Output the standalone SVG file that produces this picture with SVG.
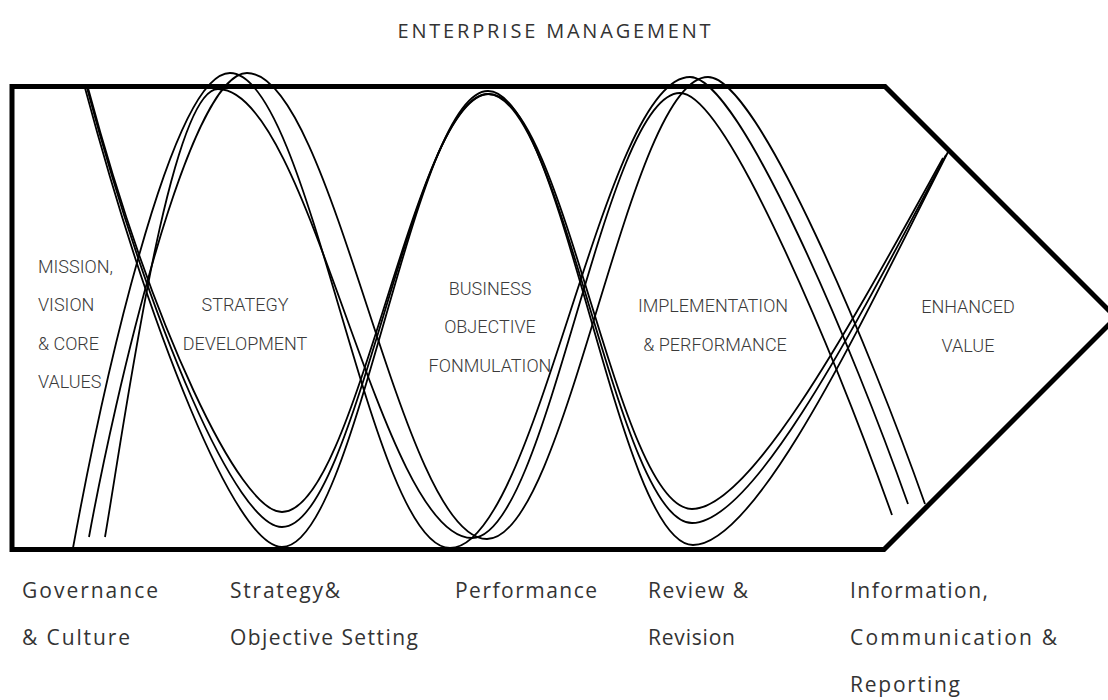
<svg xmlns="http://www.w3.org/2000/svg" width="1108" height="700" viewBox="0 0 1108 700">
  <style>
    .frame { fill: none; stroke: #000; stroke-width: 5; stroke-linejoin: miter; }
    .strand { fill: none; stroke: #000; stroke-width: 1.8; stroke-linecap: butt; }
    .stage { font-family: Roboto, "Liberation Sans", sans-serif; font-weight: 300; font-size: 18px; fill: #3a3a3a; }
    .pillar { font-family: "Open Sans", "Liberation Sans", sans-serif; font-size: 21px; fill: #333; }
    .title { font-family: "Open Sans", "Liberation Sans", sans-serif; font-size: 20px; fill: #333; }
  </style>
  <rect width="1108" height="700" fill="#fff"/>

  <text class="title" x="554" y="38" text-anchor="middle" textLength="313" lengthAdjust="spacing">ENTERPRISE MANAGEMENT</text>

  <!-- arrow-shaped frame -->
  <g id="frame">
    <polygon class="frame" points="12,86.5 885,86.5 1116,317.5 884,549.5 12,549.5"/>
  </g>

  <!-- interwoven strands -->
  <g id="connectors">
    <g id="wave-a">
      <path class="strand" d="M73,548 C100,400 170,73 230,73 C310,73 370,548 450,548 C537,548 603,77 690,77 C740,77 855,354 908,504"/>
      <path class="strand" d="M89,537 C114,400 188,73 247,73 C334,73 400,539 487,539 C567,539 628,77 708,77 C758,77 872,354 925,504"/>
      <path class="strand" d="M105,537 C125,420 170,89 218,89 C310,89 380,538 472,538 C548,538 604,93 680,93 C728,93 840,370 892,515"/>
    </g>
    <g id="wave-b">
      <path class="strand" d="M85,88 C150,330 235,547 282,547 C357,547 413,91 488,91 C563,91 618,545 693,545 C760,545 872,300 948,152"/>
      <path class="strand" d="M87,88 C152,330 237,527 282,527 C357,527 413,94 488,94 C563,94 617,523 692,523 C756,523 865,307 946,155"/>
      <path class="strand" d="M88,88 C153,330 240,512 282,512 C357,512 414,94 489,94 C564,94 617,509 692,509 C752,509 856,315 943,158"/>
    </g>
  </g>

  <!-- stages inside the frame -->
  <g id="stage-mission">
    <text class="stage" x="38" y="273">MISSION,</text>
    <text class="stage" x="38" y="311">VISION</text>
    <text class="stage" x="38" y="350">&amp; CORE</text>
    <text class="stage" x="38" y="388">VALUES</text>
  </g>
  <g id="stage-strategy">
    <text class="stage" x="245" y="311" text-anchor="middle">STRATEGY</text>
    <text class="stage" x="245" y="350" text-anchor="middle">DEVELOPMENT</text>
  </g>
  <g id="stage-objective">
    <text class="stage" x="490" y="295" text-anchor="middle">BUSINESS</text>
    <text class="stage" x="490" y="333" text-anchor="middle">OBJECTIVE</text>
    <text class="stage" x="490" y="372" text-anchor="middle">FONMULATION</text>
  </g>
  <g id="stage-implementation">
    <text class="stage" x="713" y="312" text-anchor="middle">IMPLEMENTATION</text>
    <text class="stage" x="715" y="351" text-anchor="middle">&amp; PERFORMANCE</text>
  </g>
  <g id="stage-value">
    <text class="stage" x="968" y="313" text-anchor="middle">ENHANCED</text>
    <text class="stage" x="968" y="352" text-anchor="middle">VALUE</text>
  </g>

  <!-- components below the frame -->
  <g id="pillar-governance">
    <text class="pillar" x="22" y="598" textLength="136" lengthAdjust="spacing">Governance</text>
    <text class="pillar" x="22" y="645" textLength="108" lengthAdjust="spacing">&amp; Culture</text>
  </g>
  <g id="pillar-strategy">
    <text class="pillar" x="230" y="598" textLength="110" lengthAdjust="spacing">Strategy&amp;</text>
    <text class="pillar" x="230" y="645" textLength="188" lengthAdjust="spacing">Objective Setting</text>
  </g>
  <g id="pillar-performance">
    <text class="pillar" x="455" y="598" textLength="142" lengthAdjust="spacing">Performance</text>
  </g>
  <g id="pillar-review">
    <text class="pillar" x="648" y="598" textLength="100" lengthAdjust="spacing">Review &amp;</text>
    <text class="pillar" x="648" y="645" textLength="87" lengthAdjust="spacing">Revision</text>
  </g>
  <g id="pillar-information">
    <text class="pillar" x="850" y="598" textLength="138" lengthAdjust="spacing">Information,</text>
    <text class="pillar" x="850" y="645" textLength="207" lengthAdjust="spacing">Communication &amp;</text>
    <text class="pillar" x="850" y="692" textLength="110" lengthAdjust="spacing">Reporting</text>
  </g>
</svg>
